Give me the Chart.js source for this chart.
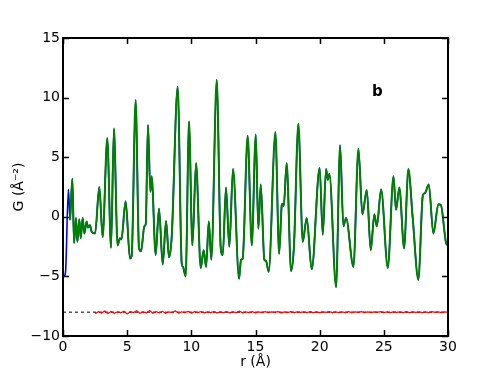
<!DOCTYPE html>
<html>
<head>
<meta charset="utf-8">
<script src="https://cdn.jsdelivr.net/npm/chart.js@4/dist/chart.umd.min.js"></script>
<style>
  body { margin: 0; background: #fff; }
  #wrap { width: 498px; height: 374px; }
</style>
</head>
<body>
<div id="wrap"><canvas id="pdfChart" width="498" height="374"></canvas></div>
<script>
// Fitted G(r) (green), read peak by peak from the figure
const fitR = [0.55, 0.73, 0.86, 1.01, 1.12, 1.27, 1.38, 1.53, 1.66, 1.84, 1.95, 2.1, 2.23, 2.5,
    2.83, 3.09, 3.45, 3.74, 3.97, 4.25, 4.44, 4.55, 4.88, 5.22, 5.35, 5.66, 5.92, 6.08, 6.34, 6.45,
    6.62, 6.81, 6.91, 7.22, 7.48, 7.77, 8.03, 8.26, 8.47, 8.94, 9.25, 9.35, 9.56, 9.82, 10.08, 10.37,
    10.73, 10.96, 11.15, 11.36, 11.56, 11.98, 12.29, 12.45, 12.7, 12.96, 13.25, 13.72, 13.87, 14.0,
    14.39, 14.71, 15.02, 15.22, 15.41, 15.69, 15.82, 16.03, 16.55, 16.84, 17.05, 17.12, 17.2, 17.43,
    17.77, 18.0, 18.34, 18.68, 18.99, 19.38, 20.0, 20.24, 20.5, 20.63, 20.76, 21.28, 21.59, 21.85,
    22.06, 22.63, 23.02, 23.33, 23.67, 23.98, 24.26, 24.45, 24.79, 25.31, 25.75, 25.95, 26.21, 26.58,
    26.91, 27.25, 27.69, 28.04, 28.21, 28.5, 28.86, 29.25, 29.44, 29.85, 30.0];
const fitG = [-0.27, 3.2, -2.2, -0.1, -2.1, -0.2, -1.8, -0.1, -1.4, -0.4, -0.9, -0.7, -1.25, -1.4,
    2.5, -1.7, 6.6, -2.6, 7.4, -2.4, -1.8, -1.9, 1.3, -3.5, -3.3, 9.8, -2.6, -2.9, -0.8, -0.6,
    7.7, 2.1, 3.4, -3.2, 0.7, -4.0, -0.35, -3.4, -1.7, 10.9, -3.9, -4.2, -5.0, 8.0, -2.4, 4.5,
    -4.3, -2.8, -4.2, -0.4, -3.6, 11.5, -2.6, -3.2, 2.45, -2.5, 4.0, -5.2, -3.6, -3.5,
    6.8, -2.4, 6.9, -1.0, 2.7, -3.6, -3.7, -4.6, 7.1, -3.1, 1.0, 1.1, 0.9, 4.5,
    -4.55, -2.4, 7.8, -2.1, -0.1, -4.4, 4.1, -1.5, 4.0, 3.1, 3.6, -5.9, 6.0, -0.8,
    -0.1, -4.2, 5.7, 0.2, 2.25, -2.8, 0.2, -0.8, 2.3, -4.3, 3.4, 0.6, 2.45, -2.65,
    4.0, -0.1, -5.3, 1.8, 2.0, 2.7, -1.4, 1.05, 1.0, -2.2, -2.4];

// Observed data (blue): visible only below r = 0.6, otherwise under the fit
const obsHeadR = [0.1, 0.2, 0.42];
const obsHeadG = [-5.0, -4.6, 2.3];

// Difference curve, offset to -8, from r = 2.5 in steps of 0.25
const diffStart = 2.5;
const diffStep = 0.25;
const diffG = [
    -8.14, -7.96, -8.08, -7.9, -8.12, -7.94, -8.1, -7.97, -8.06, -7.92,
    -8.15, -7.95, -8.04, -7.88, -8.1, -7.98, -8.06, -7.86, -8.09, -7.96,
    -8.05, -7.93, -8.1, -7.98, -8.03, -7.9, -8.08, -7.97, -8.04, -7.94,
    -8.07, -7.96, -8.03, -7.95, -8.06, -7.98, -8.04, -7.96, -8.05, -7.97,
    -8.03, -7.95, -8.06, -7.98, -8.03, -7.92, -8.05, -7.97, -8.04, -7.96,
    -8.05, -7.97, -8.03, -7.96, -8.04, -7.98, -8.02, -7.96, -8.05, -7.97,
    -8.03, -7.96, -8.04, -7.98, -8.02, -7.97, -8.04, -7.95, -8.03, -7.98,
    -8.04, -7.97, -8.02, -7.96, -8.04, -7.98, -8.03, -7.97, -8.04, -7.96,
    -8.03, -7.98, -8.02, -7.96, -8.04, -7.97, -8.03, -7.98, -8.02, -7.96,
    -8.04, -7.97, -8.03, -7.98, -8.02, -7.97, -8.04, -7.96, -8.03, -7.98,
    -8.02, -7.97, -8.04, -7.98, -8.03, -7.96, -8.02, -7.98, -8.04, -7.97,
    -8.02];

// Zero line of the difference curve
const baseR = [0, 30];
const baseG = [-8, -8];

// Axis ticks
const xTicks = [0, 5, 10, 15, 20, 25, 30];
const yTicks = [-10, -5, 0, 5, 10, 15];

const panelLabel = 'b';
const panelPos = [24.5, 10.5];

function toPoints(xs, ys) {
    return xs.map((x, i) => ({ x: x, y: ys[i] }));
}

const obsPoints = toPoints(obsHeadR.concat(fitR), obsHeadG.concat(fitG));
const diffPoints = diffG.map((g, i) => ({ x: diffStart + i * diffStep, y: g }));

// Frame, inward ticks on all four sides, and the panel letter
const frameTicks = {
    id: 'frameTicks',
    afterDraw(chart) {
        const { ctx, chartArea: a, scales: { x, y } } = chart;
        ctx.save();
        ctx.strokeStyle = '#000';
        ctx.lineWidth = 1.5;
        ctx.beginPath();
        xTicks.forEach(v => {
            const px = Math.round(x.getPixelForValue(v)) + 0.5;
            ctx.moveTo(px, a.bottom); ctx.lineTo(px, a.bottom - 6);
            ctx.moveTo(px, a.top); ctx.lineTo(px, a.top + 6);
        });
        yTicks.forEach(v => {
            const py = Math.round(y.getPixelForValue(v)) + 0.5;
            ctx.moveTo(a.left, py); ctx.lineTo(a.left + 6, py);
            ctx.moveTo(a.right, py); ctx.lineTo(a.right - 6, py);
        });
        ctx.stroke();
        ctx.lineWidth = 2;
        ctx.strokeRect(a.left, a.top, a.right - a.left, a.bottom - a.top);

        ctx.fillStyle = '#000';
        ctx.font = 'bold 15px "DejaVu Sans"';
        ctx.textAlign = 'center';
        ctx.textBaseline = 'middle';
        ctx.fillText(panelLabel, x.getPixelForValue(panelPos[0]), y.getPixelForValue(panelPos[1]));
        ctx.restore();
    }
};

const tickFont = { family: 'DejaVu Sans', size: 14 };

const ctx = document.getElementById('pdfChart').getContext('2d');
const pdfChart = new Chart(ctx, {
    type: 'line',
    data: {
        datasets: [
            {
                label: 'fit',
                data: toPoints(fitR, fitG),
                borderColor: '#008000',
                borderWidth: 2,
                pointRadius: 0,
                cubicInterpolationMode: 'monotone'
            },
            {
                label: 'data',
                data: obsPoints,
                borderColor: '#0000ff',
                borderWidth: 1.6,
                pointRadius: 0,
                cubicInterpolationMode: 'monotone'
            },
            {
                label: 'difference',
                data: diffPoints,
                borderColor: '#ff0000',
                borderWidth: 1.2,
                pointRadius: 0,
                tension: 0
            },
            {
                label: 'zero',
                data: toPoints(baseR, baseG),
                borderColor: '#000',
                borderWidth: 1,
                borderDash: [3, 3],
                pointRadius: 0
            }
        ]
    },
    options: {
        responsive: false,
        animation: false,
        layout: { padding: { left: 0, top: 38, right: 50, bottom: 0 } },
        plugins: { legend: { display: false }, tooltip: { enabled: false } },
        scales: {
            x: {
                type: 'linear',
                min: 0,
                max: 30,
                grid: { display: false, drawTicks: false },
                border: { display: false },
                afterFit: s => { s.height = 38; },
                afterBuildTicks: s => { s.ticks = xTicks.map(v => ({ value: v })); },
                ticks: {
                    autoSkip: false,
                    maxRotation: 0,
                    padding: 3,
                    color: '#000',
                    font: tickFont
                },
                title: {
                    display: true,
                    text: 'r (Å)',
                    color: '#000',
                    font: tickFont,
                    padding: { top: 0, bottom: 3 }
                }
            },
            y: {
                min: -10,
                max: 15,
                grid: { display: false, drawTicks: false },
                border: { display: false },
                afterFit: s => { s.width = 63; },
                afterBuildTicks: s => { s.ticks = yTicks.map(v => ({ value: v })); },
                ticks: {
                    padding: 3,
                    color: '#000',
                    font: tickFont,
                    callback: v => String(v).replace('-', '\u2212')
                },
                title: {
                    display: true,
                    text: 'G (Å⁻²)',
                    color: '#000',
                    font: tickFont,
                    padding: { top: 11, bottom: 0 }
                }
            }
        }
    },
    plugins: [frameTicks]
});
</script>
</body>
</html>
